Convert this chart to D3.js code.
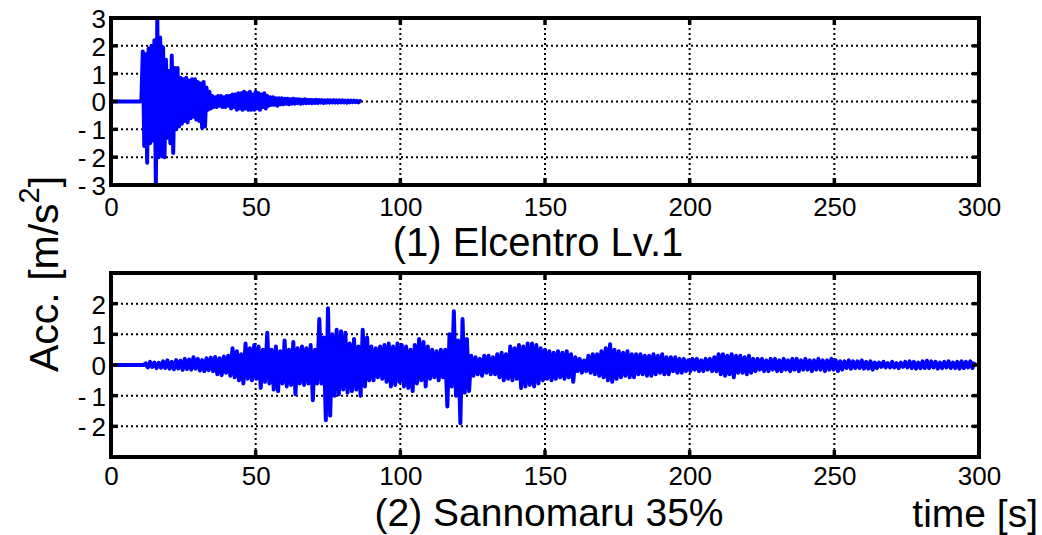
<!DOCTYPE html>
<html>
<head>
<meta charset="utf-8">
<script src="https://cdn.jsdelivr.net/npm/d3@7"></script>
<style>
body { margin: 0; background: #fff; }
text { font-family: "Liberation Sans", Arial, sans-serif; fill: #000; }
</style>
</head>
<body>
<svg id="chart" width="1042" height="535"></svg>
<script>
// axes
const xTicks = [0, 50, 100, 150, 200, 250, 300];
const yTicks1 = [-3, -2, -1, 0, 1, 2, 3];
const yTicks2 = [-2, -1, 0, 1, 2];
const title1 = '(1) Elcentro Lv.1';
const title2 = '(2) Sannomaru 35%';

// (1) Elcentro: samples every 0.5 s from 10.5 s (zero before)
const t0Elcentro = 10.5, dtElcentro = 0.5;
const accElcentro = [
  0.05, 1.8, -1.6, 1.7, -2.2, 1.9, -1.5, 2.0,
  -1.4, 2.2, -2.95, 2.95, -2.0, 2.3, -1.95, 1.95,
  -2.0, 1.5, -1.3, 1.1, -1.5, 1.65, -1.85, 1.2,
  -1.0, 1.2, -0.9, 0.85, -0.8, 0.8, -0.7, 0.85,
  -0.75, 0.75, -0.6, 0.8, -0.55, 0.8, -0.65, 0.7,
  -0.7, 0.65, -0.95, 0.7, -0.9, 0.5, -0.3, 0.35,
  -0.25, 0.2, -0.2, 0.15, -0.2, 0.2, -0.15, 0.2,
  -0.2, 0.15, -0.2, 0.2, -0.15, 0.2, -0.25, 0.25,
  -0.2, 0.25, -0.3, 0.3, -0.25, 0.3, -0.3, 0.35,
  -0.25, 0.3, -0.3, 0.35, -0.3, 0.25, -0.3, 0.35,
  -0.25, 0.3, -0.3, 0.25, -0.2, 0.3, -0.25, 0.2,
  -0.15, 0.15, -0.12, 0.15, -0.12, 0.12, -0.15, 0.12,
  -0.1, 0.12, -0.1, 0.1, -0.08, 0.1, -0.1, 0.08,
  -0.08, 0.1, -0.08, 0.08, -0.06, 0.08, -0.08, 0.06,
  -0.06, 0.08, -0.06, 0.06, -0.05, 0.06, -0.06, 0.05,
  -0.05, 0.06, -0.05, 0.05, -0.04, 0.05, -0.05, 0.04,
  -0.04, 0.05, -0.04, 0.04, -0.03, 0.05, -0.04, 0.04,
  -0.04, 0.04, -0.03, 0.04, -0.03, 0.03, -0.04, 0.03,
  -0.03, 0.03, -0.02, 0.03, -0.02, 0.02, -0.03, 0.02,
  0
];

// (2) Sannomaru 35%: samples every 0.75 s from 12 s (zero before)
const t0Sannomaru = 12, dtSannomaru = 0.75;
const accSannomaru = [
  0.05, -0.08, 0.1, -0.06, 0.08, -0.1, 0.07, -0.09,
  0.12, -0.1, 0.15, -0.12, 0.1, -0.14, 0.16, -0.11,
  0.14, -0.16, 0.2, -0.13, 0.18, -0.15, 0.25, -0.12,
  0.2, -0.18, 0.16, -0.2, 0.22, -0.17, 0.24, -0.2,
  0.26, -0.3, 0.22, -0.33, 0.28, -0.25, 0.3, -0.35,
  0.55, -0.4, 0.45, -0.5, 0.35, -0.6, 0.7, -0.45,
  0.55, -0.5, 0.65, -0.45, 0.6, -0.75, 0.5, -0.55,
  1.05, -0.6, 0.5, -0.8, 0.6, -0.85, 0.45, -0.6,
  0.8, -0.7, 0.5, -0.65, 0.75, -0.95, 0.55, -0.6,
  0.6, -0.65, 0.55, -0.6, 0.65, -1.15, 0.5, -0.6,
  1.5, -0.6, 0.9, -1.8, 1.85, -1.65, 1.0, -1.0,
  1.15, -0.95, 1.1, -0.8, 1.05, -0.9, 0.7, -0.85,
  0.85, -0.8, 0.6, -1.0, 1.15, -0.7, 0.9, -0.5,
  0.6, -0.5, 0.55, -0.4, 0.6, -0.45, 0.65, -0.55,
  0.7, -0.7, 0.6, -0.65, 0.7, -0.55, 0.65, -0.7,
  0.6, -0.75, 0.5, -0.85, 0.65, -0.6, 0.85, -0.5,
  0.75, -0.7, 0.6, -0.45, 0.5, -0.4, 0.45, -0.5,
  0.5, -0.4, 0.5, -1.35, 1.0, -0.7, 1.75, -1.0,
  0.8, -1.9, 1.5, -0.9, 0.85, -0.85, 0.3, -0.35,
  0.25, -0.3, 0.2, -0.35, 0.3, -0.25, 0.3, -0.3,
  0.25, -0.3, 0.35, -0.4, 0.4, -0.5, 0.35, -0.45,
  0.6, -0.5, 0.55, -0.45, 0.65, -0.75, 0.6, -0.7,
  0.7, -0.65, 0.7, -0.7, 0.65, -0.6, 0.55, -0.5,
  0.5, -0.45, 0.45, -0.5, 0.4, -0.45, 0.45, -0.4,
  0.4, -0.45, 0.45, -0.4, 0.35, -0.55, 0.25, -0.2,
  0.2, -0.25, 0.15, -0.2, 0.3, -0.25, 0.35, -0.3,
  0.35, -0.35, 0.45, -0.4, 0.55, -0.5, 0.68, -0.55,
  0.5, -0.45, 0.45, -0.4, 0.4, -0.35, 0.45, -0.4,
  0.35, -0.4, 0.35, -0.3, 0.35, -0.3, 0.3, -0.35,
  0.3, -0.35, 0.35, -0.3, 0.3, -0.25, 0.35, -0.3,
  0.25, -0.3, 0.25, -0.2, 0.25, -0.25, 0.2, -0.25,
  0.2, -0.2, 0.15, -0.2, 0.2, -0.15, 0.2, -0.2,
  0.15, -0.2, 0.2, -0.15, 0.2, -0.2, 0.25, -0.2,
  0.35, -0.3, 0.35, -0.35, 0.3, -0.3, 0.35, -0.4,
  0.3, -0.25, 0.3, -0.25, 0.25, -0.3, 0.3, -0.25,
  0.2, -0.2, 0.2, -0.15, 0.2, -0.2, 0.15, -0.2,
  0.2, -0.15, 0.2, -0.2, 0.15, -0.2, 0.2, -0.15,
  0.15, -0.2, 0.2, -0.15, 0.2, -0.2, 0.15, -0.15,
  0.2, -0.15, 0.15, -0.2, 0.15, -0.15, 0.2, -0.15,
  0.15, -0.2, 0.15, -0.15, 0.2, -0.15, 0.15, -0.2,
  0.12, -0.15, 0.12, -0.1, 0.15, -0.12, 0.12, -0.1,
  0.12, -0.1, 0.15, -0.12, 0.1, -0.12, 0.12, -0.15,
  0.08, -0.1, 0.08, -0.06, 0.1, -0.08, 0.06, -0.08,
  0.1, -0.08, 0.06, -0.1, 0.08, -0.06, 0.1, -0.08,
  0.12, -0.1, 0.1, -0.12, 0.08, -0.1, 0.12, -0.1,
  0.14, -0.1, 0.12, -0.08, 0.1, -0.12, 0.08, -0.1,
  0.1, -0.08, 0.12, -0.1, 0.08, -0.1, 0.1, -0.12,
  0.12, -0.1, 0.1, -0.08, 0.12, -0.1, 0.1
];

const svg = d3.select('#chart');
const x = d3.scaleLinear().domain([0, 300]).range([111, 979]);
const fmt = d => d < 0 ? '-\u2009' + Math.abs(d) : String(d);

function toPoints(t0, dt, acc) {
  const pts = [[0, 0], [t0 - dt, 0]];
  acc.forEach((v, i) => pts.push([t0 + i * dt, v]));
  return pts;
}

function panel(top, bottom, yTicks, pts, xLabelY) {
  const y = d3.scaleLinear().domain([-3, 3]).range([bottom, top]);
  const g = svg.append('g');
  const innerX = xTicks.filter(d => d > 0 && d < 300);
  const innerY = yTicks.filter(d => d > -3 && d < 3);

  // dotted grid
  g.selectAll('.gx').data(innerX).enter().append('line')
    .attr('x1', d => x(d)).attr('x2', d => x(d))
    .attr('y1', top).attr('y2', bottom)
    .attr('stroke', '#000').attr('stroke-width', 2).attr('stroke-dasharray', '2,3');
  g.selectAll('.gy').data(innerY).enter().append('line')
    .attr('x1', x(0)).attr('x2', x(300))
    .attr('y1', d => y(d)).attr('y2', d => y(d))
    .attr('stroke', '#000').attr('stroke-width', 2).attr('stroke-dasharray', '2,3');

  // signal
  g.append('path').datum(pts)
    .attr('d', d3.line().x(d => x(d[0])).y(d => y(d[1])))
    .attr('fill', 'none').attr('stroke', '#0000ff')
    .attr('stroke-width', 4).attr('stroke-linejoin', 'round');

  // inward tick marks on all four sides
  const tl = 7;
  innerX.forEach(d => {
    g.append('line').attr('x1', x(d)).attr('x2', x(d)).attr('y1', bottom).attr('y2', bottom - tl)
      .attr('stroke', '#000').attr('stroke-width', 3.5);
    g.append('line').attr('x1', x(d)).attr('x2', x(d)).attr('y1', top).attr('y2', top + tl)
      .attr('stroke', '#000').attr('stroke-width', 3.5);
  });
  innerY.forEach(d => {
    g.append('line').attr('x1', x(0)).attr('x2', x(0) + tl).attr('y1', y(d)).attr('y2', y(d))
      .attr('stroke', '#000').attr('stroke-width', 3.5);
    g.append('line').attr('x1', x(300)).attr('x2', x(300) - tl).attr('y1', y(d)).attr('y2', y(d))
      .attr('stroke', '#000').attr('stroke-width', 3.5);
  });

  // frame
  g.append('rect').attr('x', x(0)).attr('y', top)
    .attr('width', x(300) - x(0)).attr('height', bottom - top)
    .attr('fill', 'none').attr('stroke', '#000').attr('stroke-width', 4);

  // tick labels
  g.append('g').attr('transform', `translate(0,${xLabelY})`)
    .call(d3.axisBottom(x).tickValues(xTicks).tickSize(0).tickPadding(0))
    .call(a => a.select('.domain').remove())
    .selectAll('text').attr('dy', 0).attr('font-size', 26)
    .attr('font-family', '"Liberation Sans", Arial, sans-serif');
  g.append('g').attr('transform', `translate(${x(0) - 5},0)`)
    .call(d3.axisLeft(y).tickValues(yTicks).tickFormat(fmt).tickSize(0).tickPadding(0))
    .call(a => a.select('.domain').remove())
    .selectAll('text').attr('dy', '0.36em').attr('font-size', 26)
    .attr('font-family', '"Liberation Sans", Arial, sans-serif');
}

panel(18, 185, yTicks1, toPoints(t0Elcentro, dtElcentro, accElcentro), 216);
panel(273, 457, yTicks2, toPoints(t0Sannomaru, dtSannomaru, accSannomaru), 485);

// titles
svg.append('text').attr('x', 538).attr('y', 256).attr('text-anchor', 'middle')
  .attr('font-size', 40).text(title1);
svg.append('text').attr('x', 549).attr('y', 526).attr('text-anchor', 'middle')
  .attr('font-size', 39).text(title2);
svg.append('text').attr('x', 1038).attr('y', 527).attr('text-anchor', 'end')
  .attr('font-size', 39).text('time [s]');

// y label
const yl = svg.append('text').attr('transform', 'translate(58,372) rotate(-90)')
  .attr('font-size', 41);
yl.append('tspan').text('Acc. [m/s');
yl.append('tspan').attr('font-size', 29).attr('dy', -19).text('2');
yl.append('tspan').attr('dy', 19).text(']');
</script>
</body>
</html>
